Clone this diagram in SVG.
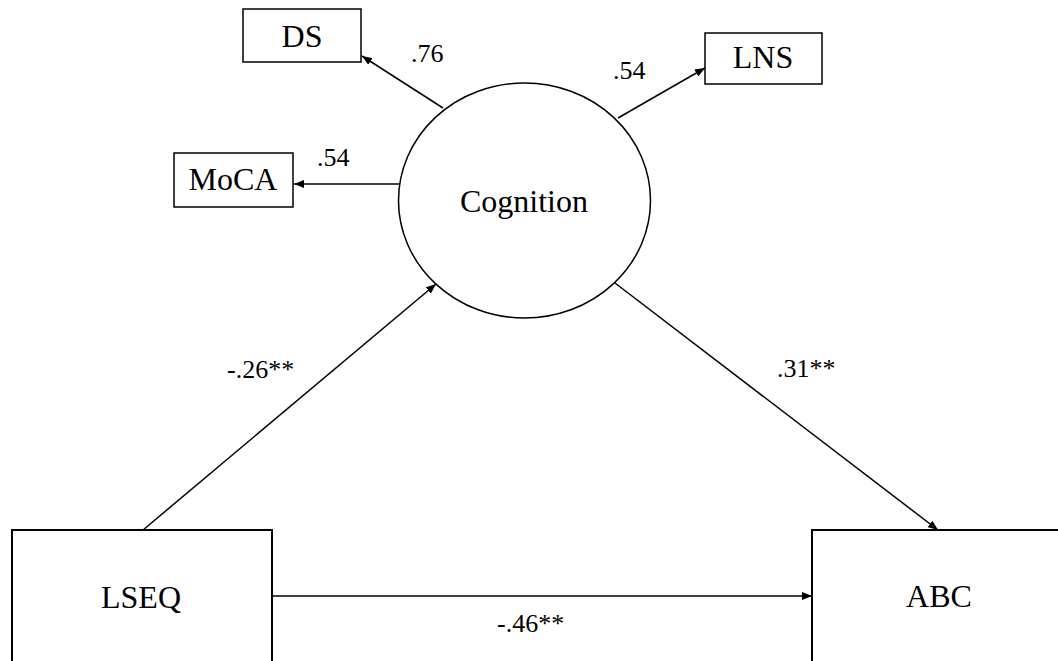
<svg xmlns="http://www.w3.org/2000/svg" width="1058" height="661" viewBox="0 0 1058 661">
<defs>
<style>
.box{fill:#fff;stroke:#000;stroke-width:1.5}
.big{fill:#fff;stroke:#000;stroke-width:2}
.lbl{font-size:32px;fill:#000;text-anchor:middle}
.coef{font-size:26px;fill:#000}
.edge{stroke:#000;stroke-width:1.5;fill:none;marker-end:url(#ah)}
</style>
<marker id="ah" viewBox="0 0 10 8" refX="10" refY="4" markerWidth="10" markerHeight="8" markerUnits="userSpaceOnUse" orient="auto">
<path d="M0,0 L10,4 L0,8 Z" fill="#000"/>
</marker>
</defs>
<rect width="1058" height="661" fill="#fff"/>
<g font-family="Liberation Serif, Times New Roman, serif">
<g id="connectors">
<line class="edge" x1="443" y1="108" x2="362" y2="56"/>
<line class="edge" x1="400" y1="184" x2="294" y2="184"/>
<line class="edge" x1="618" y1="118" x2="705" y2="68"/>
<line class="edge" x1="143" y1="530" x2="436" y2="284"/>
<line class="edge" x1="615" y1="283" x2="938" y2="530"/>
<line class="edge" x1="272" y1="596" x2="812" y2="596"/>
<text class="coef" x="411" y="62">.76</text>
<text class="coef" x="317" y="166">.54</text>
<text class="coef" x="613" y="79">.54</text>
<text class="coef" x="227" y="378">-.26**</text>
<text class="coef" x="777" y="377">.31**</text>
<text class="coef" x="497" y="632">-.46**</text>
</g>
<g id="node-ds">
<rect class="box" x="243" y="9" width="118" height="53"/>
<text class="lbl" x="302" y="47">DS</text>
</g>
<g id="node-moca">
<rect class="box" x="174" y="153" width="119" height="54"/>
<text class="lbl" x="233" y="190">MoCA</text>
</g>
<g id="node-lns">
<rect class="box" x="705" y="33" width="117" height="51"/>
<text class="lbl" x="763" y="68">LNS</text>
</g>
<g id="node-cognition">
<ellipse class="box" cx="524.5" cy="200.5" rx="126" ry="117.5"/>
<text class="lbl" x="524" y="212">Cognition</text>
</g>
<g id="node-lseq">
<rect class="big" x="12" y="530" width="260" height="140"/>
<text class="lbl" x="141" y="608">LSEQ</text>
</g>
<g id="node-abc">
<rect class="big" x="812" y="530" width="260" height="140"/>
<text class="lbl" x="939" y="607">ABC</text>
</g>
</g>
</svg>
